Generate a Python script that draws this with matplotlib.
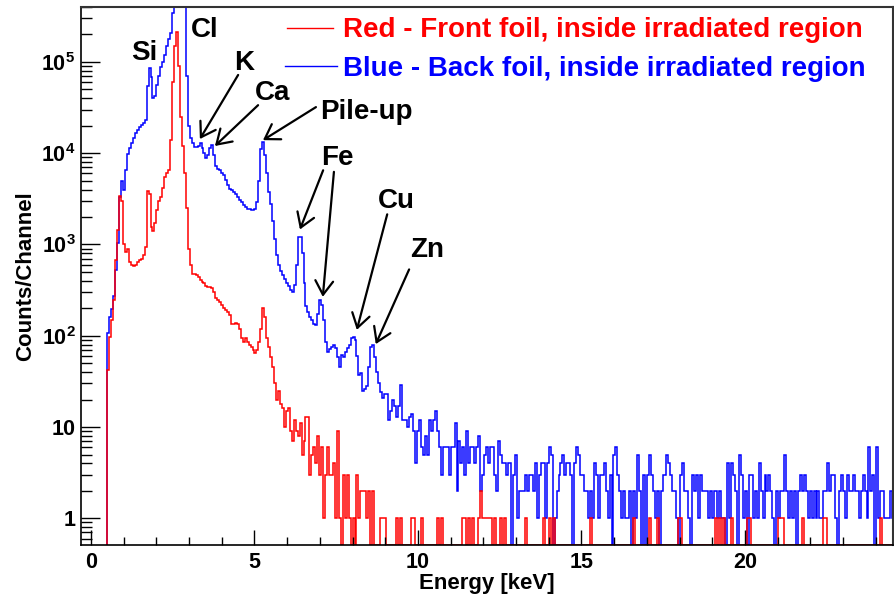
import numpy as np
import matplotlib
matplotlib.use("Agg")
import matplotlib.pyplot as plt
from matplotlib.lines import Line2D
from matplotlib.ticker import FixedLocator, LogLocator, MultipleLocator, NullFormatter

# ---------------------------------------------------------------------------
# Spectra: counts per channel, channels of 0.06 keV starting at 0.5 keV
# ---------------------------------------------------------------------------
channel_start_kev = 0.5
channel_width_kev = 0.06

blue_counts = [
    107, 160, 195, 270, 530, 1050, 3300, 4900, 4000, 6500,
    9800, 11500, 13000, 14500, 16500, 18000, 19500, 20500, 21500, 23000,
    54000, 85000, 69000, 40000, 42000, 56000, 70000, 89000, 100000, 118000,
    150000, 180000, 205000, 340000, 700000, 1500000, 2000000, 1300000, 700000, 450000,
    70000, 20000, 14700, 12800, 11700, 11700, 12000, 12800, 11500, 10000,
    8800, 9500, 11500, 12300, 9500, 7300, 6800, 6600, 6100, 5700,
    5100, 4500, 4100, 3970, 3800, 3600, 3300, 3100, 2950, 2700,
    2560, 2470, 2420, 2400, 2380, 2450, 2900, 5000, 11000, 13300,
    9500, 6000, 3800, 2800, 1800, 1150, 760, 600, 510, 460,
    420, 380, 350, 320, 305, 360, 600, 1210, 1200, 800,
    380, 210, 180, 162, 148, 136, 131, 175, 245, 215,
    150, 85, 67, 72, 76, 79, 73, 58, 45, 61,
    58, 66, 74, 79, 94, 97, 90, 60, 37, 39,
    25, 26, 28, 45, 76, 79, 59, 40, 30, 24,
    21, 23, 23, 12, 15, 20, 17, 13, 17, 29,
    12, 12, 12, 10, 13, 14, 9, 4, 9, 12,
    6, 5, 8, 5, 12, 9, 12, 15, 9, 6,
    3, 6, 6, 6, 3, 6, 6, 11, 2, 7,
    4, 6, 3, 9, 4, 6, 6, 4, 6, 8,
    2, 3, 5, 6, 4, 6, 6, 3, 2, 7,
    5, 4, 4, 3, 4, 4, 0, 3, 5, 1,
    2, 2, 2, 3, 2, 3, 3, 2, 4, 1,
    3, 4, 4, 1, 4, 6, 5, 0, 1, 2,
    3, 4, 5, 3, 4, 4, 3, 0, 4, 6,
    5, 3, 3, 2, 2, 1, 2, 1, 4, 3,
    1, 3, 3, 4, 2, 1, 3, 0, 5, 6,
    3, 2, 1, 2, 1, 1, 2, 0, 2, 1,
    5, 2, 0, 3, 0, 3, 5, 3, 2, 1,
    2, 0, 2, 3, 3, 5, 4, 3, 2, 2,
    1, 0, 3, 4, 2, 2, 1, 0, 3, 2,
    3, 1, 3, 2, 2, 2, 1, 2, 1, 2,
    2, 1, 2, 1, 1, 0, 4, 1, 4, 3,
    2, 0, 5, 3, 1, 2, 0, 3, 3, 1,
    2, 1, 4, 2, 1, 3, 2, 3, 2, 1,
    0, 2, 1, 2, 2, 5, 2, 1, 2, 1,
    2, 0, 2, 3, 2, 3, 2, 1, 2, 1,
    2, 1, 2, 1, 1, 2, 2, 4, 2, 3,
    3, 1, 0, 2, 3, 2, 1, 3, 2, 2,
    3, 2, 2, 1, 2, 3, 2, 1, 6, 2,
    3, 0, 6, 1, 2, 2, 1, 1, 1, 2,
    1,
]

red_counts = [
    42, 97, 148, 245, 680, 1440, 3400, 3000, 1000, 830,
    900, 650, 590, 580, 590, 640, 680, 700, 760, 940,
    3900, 3600, 1550, 1400, 1700, 2400, 3000, 3300, 4200, 5500,
    6000, 6500, 14000, 60000, 150000, 215000, 90000, 25000, 12000, 6000,
    2500, 900, 600, 480, 470, 460, 440, 410, 390, 375,
    350, 345, 340, 335, 300, 260, 245, 235, 218, 200,
    190, 183, 170, 136, 136, 138, 135, 118, 95, 85,
    94, 86, 80, 75, 70, 64, 70, 85, 120, 200,
    160, 95, 76, 59, 45, 30, 20, 25, 18, 16,
    10, 15, 16, 9, 7, 12, 9, 8, 11, 5,
    7, 13, 13, 3, 5, 6, 4, 8, 3, 6,
    1, 3, 6, 3, 3, 4, 1, 9, 1, 0,
    3, 1, 3, 1, 0, 1, 0, 3, 1, 2,
    2, 2, 1, 2, 0, 2, 0, 0, 0, 1,
    1, 1, 0, 0, 0, 0, 0, 1, 0, 1,
    0, 0, 0, 0, 0, 1, 1, 0, 0, 0,
    1, 0, 0, 0, 0, 0, 0, 0, 1, 0,
    1, 0, 0, 0, 0, 0, 0, 0, 0, 0,
    0, 1, 1, 0, 1, 0, 1, 0, 0, 1,
    2, 1, 1, 1, 1, 1, 0, 1, 0, 0,
    1, 0, 1, 0, 0, 0, 0, 0, 0, 0,
    0, 0, 0, 1, 0, 0, 0, 0, 0, 0,
    0, 0, 1, 0, 0, 1, 0, 1, 0, 0,
    0, 0, 0, 0, 0, 0, 0, 0, 0, 0,
    0, 0, 0, 0, 0, 0, 1, 0, 0, 0,
    0, 0, 0, 0, 0, 0, 0, 0, 0, 0,
    0, 0, 0, 0, 0, 0, 0, 0, 1, 0,
    0, 0, 0, 0, 0, 0, 1, 0, 0, 0,
    1, 0, 0, 0, 0, 0, 0, 0, 0, 0,
    0, 1, 1, 0, 0, 0, 0, 0, 0, 0,
    0, 0, 0, 0, 0, 0, 0, 0, 0, 0,
    1, 0, 1, 0, 1, 0, 0, 0, 1, 0,
    0, 0, 0, 0, 0, 0, 1, 1, 0, 0,
    0, 0, 0, 0, 0, 0, 0, 0, 0, 0,
    0, 0, 1, 1, 1, 0, 0, 0, 0, 0,
    0, 0, 0, 0, 1, 0, 0, 0, 0, 0,
    0, 0, 0, 0, 0, 1, 1, 0, 0, 0,
    0, 0, 0, 0, 0, 0, 0, 0, 0, 0,
    0, 0, 0, 0, 0, 0, 0, 0, 0, 0,
    0, 0, 0, 0, 1, 0, 0, 0, 0, 0,
    0,
]

legend_labels = [
    "Red - Front foil, inside irradiated region",
    "Blue - Back foil, inside irradiated region",
]

# Peak labels: (text, label position (keV, counts))
peak_labels = [
    ("Si", (1.62, 1.05e5)),
    ("Cl", (3.49, 1.88e5)),
    ("K", (4.68, 8.1e4)),
    ("Ca", (5.54, 3.83e4)),
    ("Pile-up", (8.43, 2.4e4)),
    ("Fe", (7.55, 7.4e3)),
    ("Cu", (9.35, 2.48e3)),
    ("Zn", (10.27, 722)),
]

# Arrows: (tail (keV, counts), head (keV, counts))
peak_arrows = [
    ((4.50, 7.2e4), (3.33, 1.43e4)),     # K
    ((5.11, 3.36e4), (3.79, 1.20e4)),    # Ca
    ((6.88, 3.2e4), (5.26, 1.39e4)),     # pile-up
    ((7.10, 6.5e3), (6.39, 1.46e3)),     # Fe K-alpha
    ((7.43, 6.25e3), (7.09, 267)),       # Fe K-beta
    ((9.06, 2.14e3), (8.13, 116)),       # Cu
    ((9.73, 533), (8.71, 81)),           # Zn
]

y_tick_values = [1, 10, 100, 1e3, 1e4, 1e5]
y_tick_labels = ["1", "10", r"$10^{2}$", r"$10^{3}$", r"$10^{4}$", r"$10^{5}$"]
x_tick_values = [0, 5, 10, 15, 20]

# ---------------------------------------------------------------------------
plt.rcParams["font.family"] = ["Liberation Sans", "DejaVu Sans"]
plt.rcParams["font.weight"] = "bold"
plt.rcParams["mathtext.fontset"] = "custom"
plt.rcParams["mathtext.rm"] = "Liberation Sans:bold"
plt.rcParams["mathtext.bf"] = "Liberation Sans:bold"
plt.rcParams["mathtext.default"] = "bf"

W, H = 895, 597
fig = plt.figure(figsize=(W / 100, H / 100), dpi=100)
ax = fig.add_axes([81 / W, 1 - 545 / H, (893 - 81) / W, (545 - 6.5) / H])

y_min, y_max = 0.51, 4.05e5
x_min, x_max = -0.306, 24.53

edges = channel_start_kev + channel_width_kev * np.arange(len(blue_counts) + 1)


def draw_spectrum(counts, color):
    vals = np.asarray(counts, dtype=float)
    vals = np.where(vals > 0, vals, y_min)  # empty channels sit on the frame
    ax.stairs(vals, edges, baseline=y_min, color=color, lw=1.1)


draw_spectrum(blue_counts, "#0000ff")
draw_spectrum(red_counts, "#ff0000")

ax.set_yscale("log")
ax.set_xlim(x_min, x_max)
ax.set_ylim(y_min, y_max)

ax.yaxis.set_major_locator(FixedLocator(y_tick_values))
ax.set_yticklabels(y_tick_labels)
ax.yaxis.set_minor_locator(LogLocator(base=10, subs=np.arange(2, 10)))
ax.yaxis.set_minor_formatter(NullFormatter())
ax.xaxis.set_major_locator(FixedLocator(x_tick_values))
ax.xaxis.set_minor_locator(MultipleLocator(1))

ax.tick_params(axis="both", which="both", direction="in", top=False, right=False)
ax.tick_params(axis="y", which="major", length=14, width=1.0, pad=4, labelsize=15.5)
ax.tick_params(axis="y", which="minor", length=8, width=1.0)
ax.tick_params(axis="x", which="major", length=11, width=1.0, pad=5, labelsize=15.5)
ax.tick_params(axis="x", which="minor", length=5.5, width=1.0)
for lab in ax.get_xticklabels() + ax.get_yticklabels():
    lab.set_fontweight("bold")

for side in ["left", "bottom"]:
    ax.spines[side].set_linewidth(1.2)
    ax.spines[side].set_color("black")
for side in ["top", "right"]:
    ax.spines[side].set_linewidth(1.5)
    ax.spines[side].set_color("#333333")

ax.set_xlabel("Energy [keV]", fontsize=16, fontweight="bold")
ax.xaxis.set_label_coords(0.5, -0.052)
ax.set_ylabel("Counts/Channel", fontsize=16, fontweight="bold")
ax.yaxis.set_label_coords(-0.055, 0.5)

# Peak labels and arrows
for text, pos in peak_labels:
    ax.text(pos[0], pos[1], text, fontsize=20, fontweight="bold", color="black",
            ha="center", va="baseline")
for tail, head in peak_arrows:
    ax.annotate("", xy=head, xytext=tail,
                arrowprops=dict(arrowstyle="->,head_length=0.5,head_width=0.32",
                                lw=1.6, color="black", shrinkA=0, shrinkB=0,
                                mutation_scale=20))

# Legend entries
legend_rows = [
    (legend_labels[0], "#ff0000", 287, 333, 28.3, 37.3),
    (legend_labels[1], "#0000ff", 285, 337, 65.7, 75.5),
]
for label, color, lx0, lx1, ly, base in legend_rows:
    fig.add_artist(Line2D([lx0 / W, lx1 / W], [1 - ly / H, 1 - ly / H],
                          color=color, lw=1.0, transform=fig.transFigure))
    fig.text(342.7 / W, 1 - base / H, label, color=color, fontsize=20,
             fontweight="bold", ha="left", va="baseline")

fig.savefig("out.png", dpi=100)
